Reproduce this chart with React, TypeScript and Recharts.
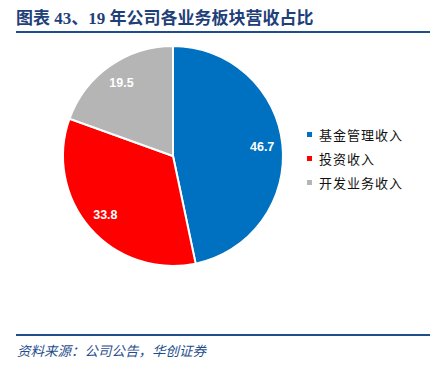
import React from 'react'
import { PieChart, Pie, Cell, Legend } from 'recharts'

const categories = ['基金管理收入', '投资收入', '开发业务收入']
const shares = [46.7, 33.8, 19.5]
const colors = ['#0070C0', '#FF0000', '#B5B5B5']

const pieData = categories.map((name, i) => ({ name, value: shares[i] }))

const RAD = Math.PI / 180

function renderLabel(props: any) {
  const { cx, cy, midAngle, outerRadius, value } = props
  const r = outerRadius * 0.815
  const x = cx + r * Math.cos(-midAngle * RAD)
  const y = cy + r * Math.sin(-midAngle * RAD)
  return (
    <text
      x={x}
      y={y}
      fill="#fff"
      textAnchor="middle"
      dominantBaseline="central"
      fontFamily="'Liberation Sans', Arial, sans-serif"
      fontWeight="bold"
      fontSize={12.5}
    >
      {value.toFixed(1)}
    </text>
  )
}

function LegendBox() {
  return (
    <div style={{ fontFamily: "'Noto Sans CJK SC', sans-serif", fontSize: 13, color: '#111' }}>
      {categories.map((c, i) => (
        <div key={c} style={{ display: 'flex', alignItems: 'center', height: 24 }}>
          <span style={{ width: 5, height: 5, background: colors[i], marginRight: 7, display: 'inline-block' }} />
          <span style={{ letterSpacing: 1 }}>{c}</span>
        </div>
      ))}
    </div>
  )
}

export default function App() {
  return (
    <div style={{ position: 'absolute', left: 0, top: 0, width: 438, height: 376, background: '#fff' }}>
      <div
        style={{
          position: 'absolute',
          left: 16,
          top: 7,
          fontFamily: "'Liberation Serif', 'Noto Sans CJK SC', serif",
          fontWeight: 'bold',
          fontSize: 17,
          color: '#1F3F7A',
          whiteSpace: 'nowrap',
          lineHeight: '24px',
        }}
      >
        图表 43、19 年公司各业务板块营收占比
      </div>
      <div style={{ position: 'absolute', left: 16, top: 31, width: 414, height: 2, background: '#1F4E8C' }} />
      <div style={{ position: 'absolute', left: 0, top: 0 }}>
        <PieChart width={438} height={330} margin={{ top: 0, right: 0, bottom: 0, left: 0 }}>
          <Pie
            data={pieData}
            dataKey="value"
            nameKey="name"
            cx={173}
            cy={156}
            outerRadius={110}
            startAngle={90}
            endAngle={-270}
            stroke="#fff"
            strokeWidth={2}
            label={renderLabel}
            labelLine={false}
            isAnimationActive={false}
          >
            {pieData.map((d, i) => (
              <Cell key={d.name} fill={colors[i]} />
            ))}
          </Pie>
          <Legend
            layout="vertical"
            content={() => <LegendBox />}
            wrapperStyle={{ left: 307, top: 122, width: 130 }}
          />
        </PieChart>
      </div>
      <div style={{ position: 'absolute', left: 16, top: 334, width: 414, height: 2, background: '#1F4E8C' }} />
      <div
        style={{
          position: 'absolute',
          left: 17,
          top: 340,
          fontFamily: "'Noto Sans CJK SC', sans-serif",
          fontStyle: 'italic',
          fontSize: 13.5,
          color: '#1F4E8C',
          lineHeight: '20px',
          whiteSpace: 'nowrap',
        }}
      >
        资料来源：公司公告，华创证券
      </div>
    </div>
  )
}
